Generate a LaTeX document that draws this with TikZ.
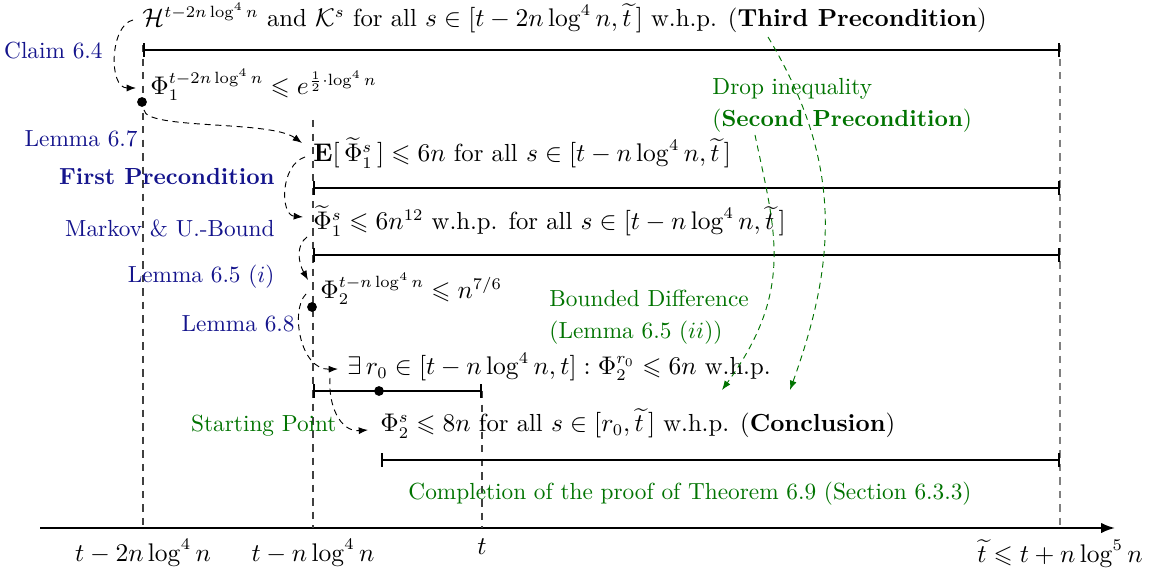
\documentclass[tikz,border=0pt]{standalone}
\usepackage{amsmath,amssymb}
\usetikzlibrary{arrows.meta}
\definecolor{lblue}{RGB}{20,20,140}
\definecolor{lgreen}{RGB}{0,115,0}
\begin{document}
\begin{tikzpicture}[x=0.01509cm,y=-0.01509cm,
  txt/.style={inner sep=0pt, anchor=base west, font=\fontsize{10.6}{12.7}\selectfont},
  bl/.style={inner sep=0pt, anchor=base east, text=lblue},
  gr/.style={inner sep=0pt, text=lgreen},
  intv/.style={line width=0.9pt, {Bar[width=6pt]}-{Bar[width=6pt]}},
  vdash/.style={black!75, line width=0.5pt, dash pattern=on 3.2pt off 2.6pt},
  arr/.style={line width=0.4pt, dash pattern=on 2.6pt off 2pt, -{Latex[length=4pt,width=3pt]}},
  garr/.style={arr, lgreen},
  dot/.style={circle, fill, inner sep=0pt, minimum size=4.2pt}]
\useasboundingbox (0,0) rectangle (1153,571);

% axis
\coordinate (ax0) at (40,528);
\coordinate (ax1) at (1115,528);
\draw[line width=0.9pt, -{Latex[length=6pt,width=4.5pt]}] (ax0) -- (ax1);

% vertical guide lines
\coordinate (v1t) at (143,45);  \coordinate (v1b) at (143,528);
\coordinate (v2t) at (313,120); \coordinate (v2b) at (313,528);
\coordinate (v3t) at (482,391); \coordinate (v3b) at (482,528);
\coordinate (v4t) at (1060,45); \coordinate (v4b) at (1060,528);
\draw[vdash] (v1t) -- (v1b);
\draw[vdash] (v2t) -- (v2b);
\draw[vdash] (v3t) -- (v3b);
\draw[vdash, black!50] (v4t) -- (v4b);

% axis labels
\node[anchor=north, font=\fontsize{10.6}{12.7}\selectfont] (xl1) at (143,531) {$t-2n\log^4 n$};
\node[anchor=north, font=\fontsize{10.6}{12.7}\selectfont] (xl2) at (313,531) {$t-n\log^4 n$};
\node[anchor=north, font=\fontsize{10.6}{12.7}\selectfont] (xl3) at (482,531) {$t$};
\node[anchor=north, font=\fontsize{10.6}{12.7}\selectfont] (xl4) at (1060,531) {$\widetilde{t}\leqslant t+n\log^5 n$};

% intervals
\coordinate (i1a) at (143,50);  \coordinate (i1b) at (1060,50);
\coordinate (i2a) at (313,188); \coordinate (i2b) at (1060,188);
\coordinate (i3a) at (313,255); \coordinate (i3b) at (1060,255);
\coordinate (i4a) at (313,391); \coordinate (i4b) at (482,391);
\coordinate (i5a) at (381,460); \coordinate (i5b) at (1060,460);
\draw[intv] (i1a) -- (i1b);
\draw[intv] (i2a) -- (i2b);
\draw[intv] (i3a) -- (i3b);
\draw[intv] (i4a) -- (i4b);
\draw[intv] (i5a) -- (i5b);

% dots
\node[dot] (d1) at (142,102) {};
\node[dot] (d2) at (312,307) {};
\node[dot] (d3) at (379,391) {};

% statements
\node[txt] (pre3) at (142,27) {$\mathcal{H}^{t-2n\log^4 n}$ and $\mathcal{K}^s$ for all $s\in[t-2n\log^4 n,\widetilde{t}\,]$ w.h.p. (\textbf{Third Precondition})};
\node[txt] (phi1) at (150,95) {$\Phi_1^{t-2n\log^4 n}\leqslant e^{\frac12\cdot\log^4 n}$};
\node[txt] (ephi) at (313,162) {$\mathbf{E}[\,\widetilde{\Phi}_1^s\,]\leqslant 6n$ for all $s\in[t-n\log^4 n,\widetilde{t}\,]$};
\node[txt] (phit) at (313,230) {$\widetilde{\Phi}_1^s\leqslant 6n^{12}$ w.h.p. for all $s\in[t-n\log^4 n,\widetilde{t}\,]$};
\node[txt] (phi2) at (320,299) {$\Phi_2^{t-n\log^4 n}\leqslant n^{7/6}$};
\node[txt] (ex) at (347,375) {$\exists\, r_0\in[t-n\log^4 n,t]:\Phi_2^{r_0}\leqslant 6n$ w.h.p.};
\node[txt] (concl) at (380,432) {$\Phi_2^s\leqslant 8n$ for all $s\in[r_0,\widetilde{t}\,]$ w.h.p. (\textbf{Conclusion})};

% blue labels
\node[bl] (c64) at (103,59) {Claim 6.4};
\node[bl] (l67) at (138,147) {Lemma 6.7};
\node[bl, font=\bfseries] (fp) at (275,185) {First Precondition};
\node[bl] (mub) at (275,237) {Markov \& U.-Bound};
\node[bl] (l65) at (275,283) {Lemma 6.5 ($i$)};
\node[bl] (l68) at (295,332) {Lemma 6.8};

% green labels
\node[gr, anchor=base east] (sp) at (337,432) {Starting Point};
\node[gr, anchor=base west] (drop1) at (712,95) {Drop inequality};
\node[gr, anchor=base west] (drop2) at (712,127) {(\textbf{Second Precondition})};
\node[gr, anchor=base west] (bd1) at (549,307) {Bounded Difference};
\node[gr, anchor=base west] (bd2) at (549,339) {(Lemma 6.5 ($ii$))};
\node[gr, anchor=base west] (comp) at (408,500) {Completion of the proof of Theorem 6.9 (Section 6.3.3)};

% black dashed arrows
\coordinate (a1s) at (133,20);  \coordinate (a1e) at (136,88);
\coordinate (a2s) at (144,110); \coordinate (a2e) at (302,143);
\coordinate (a3s) at (305,157); \coordinate (a3e) at (303,217);
\coordinate (a4s) at (307,237); \coordinate (a4e) at (308,280);
\coordinate (a5s) at (306,294); \coordinate (a5e) at (338,369);
\coordinate (a6s) at (330,378); \coordinate (a6e) at (368,430);
\draw[arr] (a1s) .. controls (110,25) and (108,88) .. (a1e);
\draw[arr] (a2s) .. controls (146,130) and (270,120) .. (a2e);
\draw[arr] (a3s) .. controls (280,165) and (280,215) .. (a3e);
\draw[arr] (a4s) .. controls (296,245) and (298,262) .. (a4e);
\draw[arr] (a5s) .. controls (290,310) and (300,370) .. (a5e);
\draw[arr] (a6s) .. controls (328,405) and (340,432) .. (a6e);

% green dashed arrows
\coordinate (gAs) at (768,37);  \coordinate (gAe) at (790,390);
\coordinate (gBs) at (755,135); \coordinate (gBe) at (722,390);
\draw[garr] (gAs) .. controls (845,165) and (835,265) .. (gAe);
\draw[garr] (gBs) .. controls (775,230) and (795,290) .. (gBe);
\end{tikzpicture}
\end{document}
